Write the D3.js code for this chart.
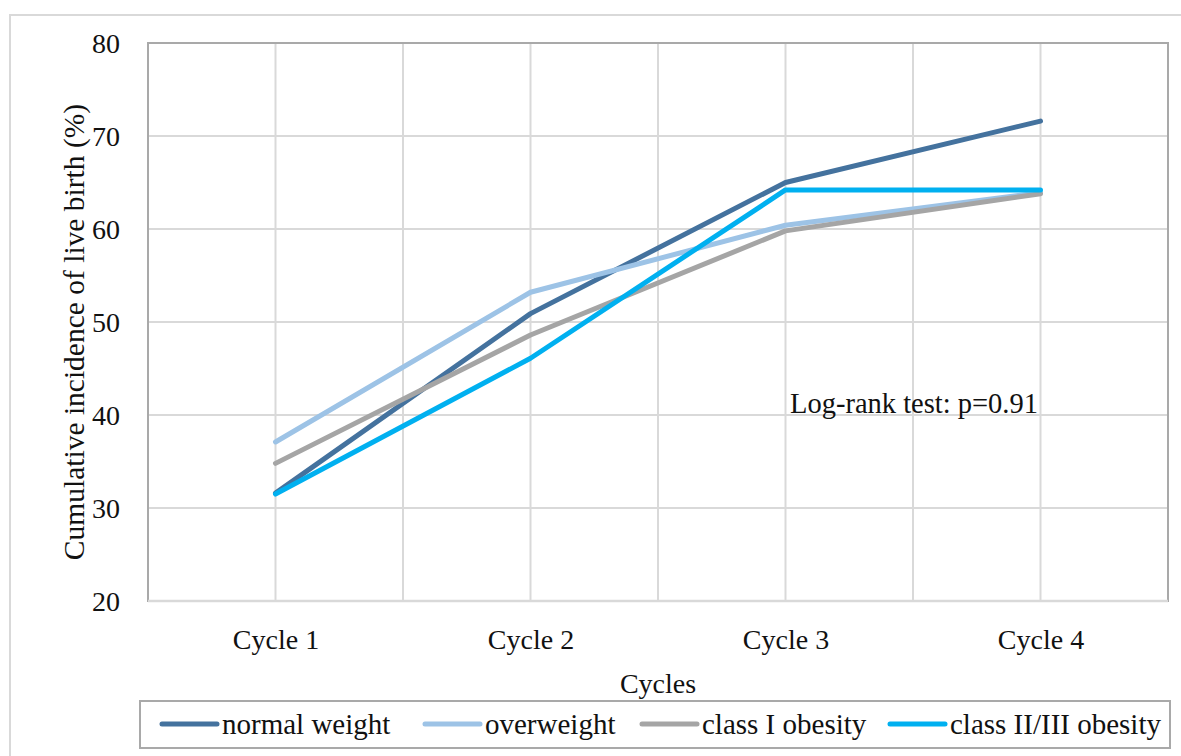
<!DOCTYPE html>
<html><head><meta charset="utf-8">
<script src="https://cdn.jsdelivr.net/npm/d3@7"></script>
<style>html,body{margin:0;padding:0;background:#fff;} text{font-family:"Liberation Serif","Times New Roman",serif;fill:#111;}</style>
</head><body><svg id="c" width="1181" height="756"></svg>
<script>
const categories = ["Cycle 1","Cycle 2","Cycle 3","Cycle 4"];
const seriesNames = ["normal weight","overweight","class I obesity","class II/III obesity"];
const normalWeight = [31.6, 50.9, 65.0, 71.6];
const overweight = [37.1, 53.2, 60.4, 63.9];
const classI = [34.8, 48.6, 59.8, 63.8];
const classII = [31.5, 46.1, 64.2, 64.2];
const yTicks = [20,30,40,50,60,70,80];
const colors = ["#44729e","#9dc3e6","#a5a5a5","#00b0f0"];
const seriesValues = [normalWeight, overweight, classI, classII];
const annotation = "Log-rank test: p=0.91";

const svg = d3.select("#c");
const L=148,R=1168,T=43,B=601;
const x = d3.scalePoint().domain(categories).range([L,R]).padding(0.5);
const y = d3.scaleLinear().domain([20,80]).range([B,T]);

// outer frame
svg.append("rect").attr("x",10).attr("y",15).attr("width",1200).attr("height",800)
  .attr("fill","none").attr("stroke","#d9d9d9").attr("stroke-width",2);

// gridlines
const g = svg.append("g");
g.selectAll("line.h").data(yTicks.filter(d=>d>20&&d<80)).join("line")
  .attr("x1",L).attr("x2",R).attr("y1",d=>y(d)).attr("y2",d=>y(d))
  .attr("stroke","#d9d9d9").attr("stroke-width",2);
const half = x.step()/2;
const vx = d3.range(1,8).map(k=>L+half*k);
g.selectAll("line.v").data(vx).join("line")
  .attr("x1",d=>d).attr("x2",d=>d).attr("y1",T).attr("y2",B)
  .attr("stroke","#d9d9d9").attr("stroke-width",2);

// plot border
svg.append("rect").attr("x",L).attr("y",T).attr("width",R-L).attr("height",B-T)
  .attr("fill","none").attr("stroke","#a9a9a9").attr("stroke-width",2);
svg.append("line").attr("x1",L).attr("x2",R).attr("y1",B).attr("y2",B)
  .attr("stroke","#d9d9d9").attr("stroke-width",2.5);

// y axis labels
const yAxis = d3.axisLeft(y).tickValues(yTicks).tickSize(0).tickPadding(0);
const ya = svg.append("g").attr("transform",`translate(120,0)`).call(yAxis);
ya.select(".domain").remove();
ya.selectAll("text").attr("font-size",28).attr("fill","#111").attr("dy","0.33em");

// x axis labels
const xAxis = d3.axisBottom(x).tickSize(0).tickPadding(0);
const xa = svg.append("g").attr("transform",`translate(0,629)`).call(xAxis);
xa.select(".domain").remove();
xa.selectAll("text").attr("font-size",28).attr("fill","#111").attr("dy","0.71em");

// axis titles
svg.append("text").attr("x",(L+R)/2).attr("y",693).attr("text-anchor","middle").attr("font-size",28).text("Cycles");
svg.append("text").attr("transform",`translate(84,${(T+B)/2+10}) rotate(-90)`).attr("text-anchor","middle")
  .attr("font-size",29.5).text("Cumulative incidence of live birth (%)");

// lines
const line = d3.line().x((d,i)=>x(categories[i])).y(d=>y(d));
svg.selectAll("path.s").data(seriesValues).join("path")
  .attr("d",d=>line(d)).attr("fill","none")
  .attr("stroke",(d,i)=>colors[i]).attr("stroke-width",5)
  .attr("stroke-linecap","round").attr("stroke-linejoin","round");

// annotation
svg.append("text").attr("x",790).attr("y",413).attr("font-size",28.5).text(annotation);

// legend
svg.append("rect").attr("x",140).attr("y",701).attr("width",1030).attr("height",47)
  .attr("fill","#fff").attr("stroke","#a9a9a9").attr("stroke-width",2);
const legX = [162,425,642,890];
const lg = svg.selectAll("g.leg").data(seriesNames).join("g").attr("transform",(d,i)=>`translate(${legX[i]},724)`);
lg.append("line").attr("x1",0).attr("x2",55).attr("y1",0).attr("y2",0)
  .attr("stroke",(d,i)=>colors[i]).attr("stroke-width",5).attr("stroke-linecap","round");
lg.append("text").attr("x",60).attr("y",10).attr("font-size",29).text(d=>d);
</script></body></html>
